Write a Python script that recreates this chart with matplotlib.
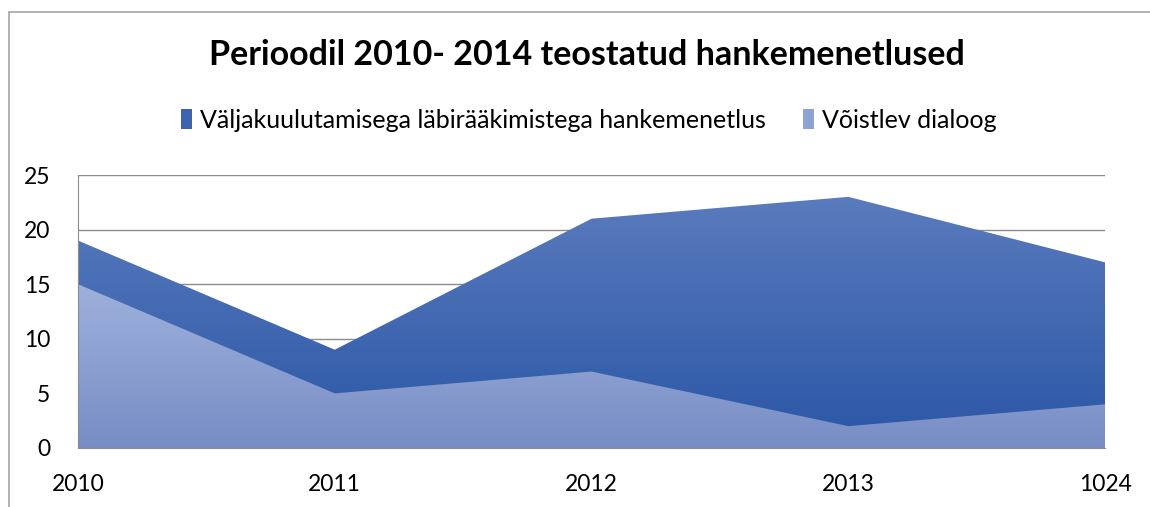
import numpy as np
import matplotlib

matplotlib.use("Agg")

import matplotlib.pyplot as plt  # noqa: E402
from matplotlib.colors import LinearSegmentedColormap  # noqa: E402
from matplotlib.patches import Patch, Polygon, Rectangle  # noqa: E402

# data
years = ["2010", "2011", "2012", "2013", "1024"]
negotiated = [19, 9, 21, 23, 17]
dialogue = [15, 5, 7, 2, 4]
series_names = ["Väljakuulutamisega läbirääkimistega hankemenetlus", "Võistlev dialoog"]
y_ticks = [0, 5, 10, 15, 20, 25]

plt.rcParams["font.family"] = ["Lato", "DejaVu Sans"]

fig = plt.figure(figsize=(11.5, 5.07), dpi=100)
ax = fig.add_axes([0.0678, 0.1164, 0.8932, 0.5384])

x = np.arange(len(years))


def gradient_area(ax, xs, ys, top_color, bottom_color, z):
    verts = [(xs[0], 0)] + list(zip(xs, ys)) + [(xs[-1], 0)]
    poly = Polygon(verts, closed=True, facecolor="none", edgecolor="none",
                   transform=ax.transData)
    ax.add_patch(poly)
    cmap = LinearSegmentedColormap.from_list("g", [bottom_color, top_color])
    grad = np.linspace(0, 1, 256).reshape(-1, 1)
    im = ax.imshow(grad, cmap=cmap, origin="lower", aspect="auto",
                   extent=(xs[0], xs[-1], 0, max(ys)), zorder=z,
                   interpolation="bicubic")
    im.set_clip_path(poly)


gradient_area(ax, x, negotiated, "#5a7bbd", "#2a56a6", 2)
gradient_area(ax, x, dialogue, "#9eb1dc", "#788dc5", 3)

ax.set_xlim(0, len(years) - 1)
ax.set_ylim(0, 25)
ax.set_yticks(y_ticks)
ax.set_xticks(x)
ax.set_xticklabels(years)
ax.tick_params(axis="both", length=0, labelsize=16.5, colors="black")
ax.tick_params(axis="y", pad=20)
ax.tick_params(axis="x", pad=19)
ax.grid(axis="y", color="#8c8c8c", linewidth=1.0, zorder=1)
ax.set_axisbelow(True)
for side in ["top", "right"]:
    ax.spines[side].set_visible(False)
ax.spines["left"].set_color("#8c8c8c")
ax.spines["bottom"].set_color("#8c8c8c")
ax.spines["left"].set_zorder(4)
ax.spines["bottom"].set_zorder(4)

fig.text(0.51, 0.891, "Perioodil 2010- 2014 teostatud hankemenetlused",
         ha="center", va="center", fontsize=24.5, fontweight="bold")

handles = [Patch(facecolor="#3d63b0"), Patch(facecolor="#8ea2d4")]
fig.legend(handles, series_names, loc="center", bbox_to_anchor=(0.512, 0.763),
           ncol=2, frameon=False, fontsize=18, handlelength=0.45,
           handleheight=0.85, handletextpad=0.3, columnspacing=1.5)

# outer chart border
fig.patches.append(Rectangle((9 / 1150, -0.1), 1.2, 1.1 - 12 / 507,
                             transform=fig.transFigure, fill=False,
                             edgecolor="#a6a6a6", linewidth=1.2))

fig.savefig("out.png", dpi=100, facecolor="white")
